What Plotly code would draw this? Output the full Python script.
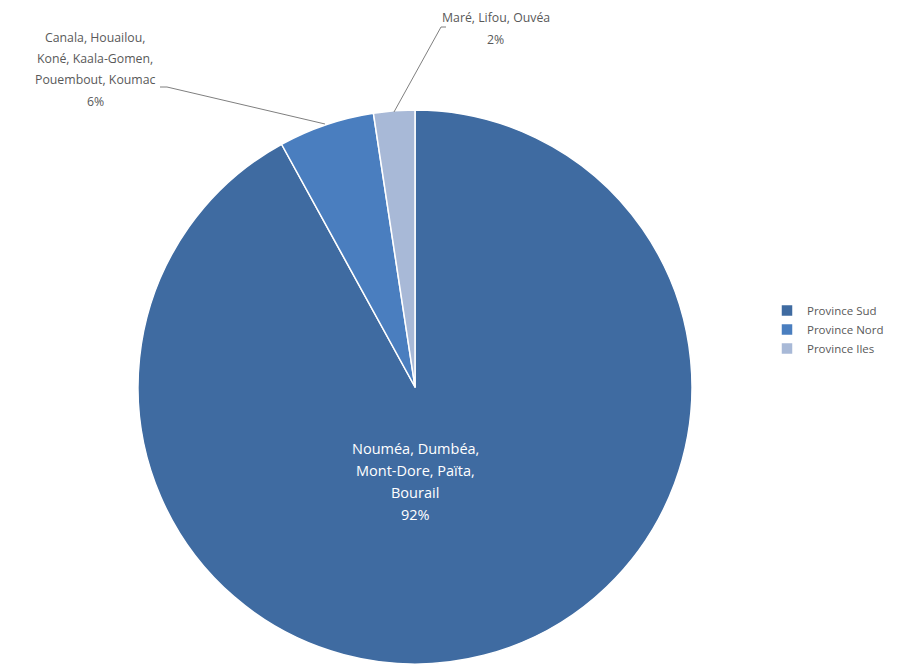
import plotly.graph_objects as go

# data
provinces = ["Province Sud", "Province Nord", "Province Iles"]
communes = [["Nouméa, Dumbéa,", "Mont-Dore, Païta,", "Bourail"],
            ["Canala, Houailou,", "Koné, Kaala-Gomen,", "Pouembout, Koumac"],
            ["Maré, Lifou, Ouvéa"]]
values = [92.0, 5.6, 2.4]
colors = ["#3f6ba1", "#4a7ebf", "#a8b9d7"]

W, H = 905, 666


def px(x):
    return x / W


def py(y):
    return 1 - y / H


total = sum(values)
pct = [round(v / total * 100) for v in values]

fig = go.Figure()
fig.add_trace(go.Pie(
    labels=provinces, values=values, sort=False, direction="clockwise",
    marker=dict(colors=colors, line=dict(color="white", width=1.5)),
    textinfo="none", hoverinfo="label+percent",
    domain=dict(x=[px(138), px(692)], y=[py(664), py(110)]),
))

fam = "Open Sans, Noto Sans, sans-serif"
font_out = dict(family=fam, size=12.3, color="#595959")
font_in = dict(family=fam, size=14.5, color="white")

# label block: centre x, first line y, line step (pixels)
label_pos = [(415, 448, 22), (95, 37, 21.5), (496, 17, 23)]
annotations = []
for i in range(3):
    x, y0, step = label_pos[i]
    lines = communes[i] + [str(pct[i]) + "%"]
    for j, t in enumerate(lines):
        annotations.append(dict(
            x=px(x), y=py(y0 + j * step), xref="paper", yref="paper",
            showarrow=False, text=t,
            font=font_in if i == 0 else font_out,
            xanchor="center", yanchor="middle",
        ))

# leader lines
shapes = [
    dict(type="path", xref="paper", yref="paper",
         path="M %f %f L %f %f L %f %f" % (px(160), py(87), px(167), py(87), px(325), py(124)),
         line=dict(color="#7f7f7f", width=1)),
    dict(type="path", xref="paper", yref="paper",
         path="M %f %f L %f %f L %f %f" % (px(446), py(27), px(441), py(27), px(394), py(112)),
         line=dict(color="#7f7f7f", width=1)),
]

fig.update_layout(
    width=W, height=H, margin=dict(l=0, r=0, t=0, b=0),
    paper_bgcolor="white", plot_bgcolor="white",
    annotations=annotations, shapes=shapes,
    legend=dict(x=px(767), y=py(296), xanchor="left", yanchor="top",
                font=dict(family=fam, size=11.5, color="#595959"),
                itemwidth=30),
    showlegend=True,
)

fig.write_html("out.html", config={"displayModeBar": False},
               post_script="document.body.style.margin='0px';")
